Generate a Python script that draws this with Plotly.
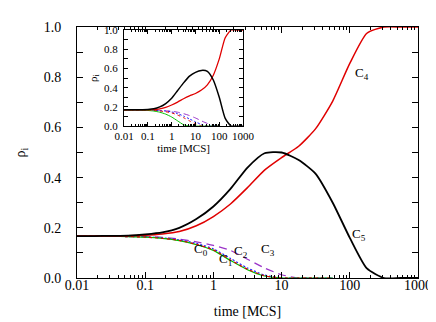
import math
import plotly.graph_objects as go

# times at quarter-decade spacing
t_q = [0.01, 0.0178, 0.0316, 0.0562, 0.1, 0.178, 0.316, 0.562, 1, 1.78, 3.16, 5.62,
       10, 17.8, 31.6, 56.2, 100, 178, 316, 562, 1000]

# ---------------- main panel data ----------------
c5_main = [0.167, 0.167, 0.168, 0.169, 0.174, 0.182, 0.2, 0.235, 0.285, 0.355, 0.44,
           0.497, 0.5, 0.47, 0.415, 0.3, 0.16, 0.038, 0.0, 0.0, 0.0]
c4_main = [0.167, 0.167, 0.167, 0.168, 0.17, 0.175, 0.185, 0.208, 0.245, 0.295, 0.36,
           0.43, 0.48, 0.525, 0.595, 0.705, 0.855, 0.975, 1.0, 1.0, 1.0]

t_small = t_q[:16]
c0_main = [0.167, 0.167, 0.166, 0.165, 0.163, 0.158, 0.149, 0.133, 0.11, 0.07, 0.033,
           0.008, 0.0, 0.0, 0.0, 0.0]
c1_main = [0.167, 0.167, 0.166, 0.165, 0.163, 0.158, 0.15, 0.134, 0.112, 0.072, 0.035,
           0.009, 0.0, 0.0, 0.0, 0.0]
c2_main = [0.167, 0.167, 0.166, 0.165, 0.164, 0.16, 0.152, 0.138, 0.116, 0.078, 0.04,
           0.012, 0.0, 0.0, 0.0, 0.0]
c3_main = [0.168, 0.168, 0.167, 0.166, 0.165, 0.162, 0.155, 0.144, 0.13, 0.11, 0.075,
           0.04, 0.013, 0.0, 0.0, 0.0]

# ---------------- inset data ----------------
c5_in = [0.17, 0.17, 0.17, 0.171, 0.173, 0.18, 0.2, 0.235, 0.29, 0.37, 0.45, 0.52,
         0.56, 0.58, 0.57, 0.48, 0.3, 0.08, 0.0, 0.0, 0.0]
c4_in = [0.17, 0.17, 0.17, 0.17, 0.17, 0.172, 0.18, 0.195, 0.22, 0.25, 0.285, 0.315,
         0.34, 0.375, 0.43, 0.53, 0.7, 0.92, 1.0, 1.0, 1.0]
c0_in = [0.167, 0.167, 0.167, 0.166, 0.163, 0.157, 0.145, 0.125, 0.095, 0.055, 0.015,
         0.0, 0.0, 0.0, 0.0, 0.0, 0.0]
c1_in = [0.167, 0.167, 0.167, 0.167, 0.166, 0.163, 0.158, 0.15, 0.138, 0.115, 0.088,
         0.055, 0.025, 0.005, 0.0, 0.0, 0.0]
c2_in = [0.167, 0.167, 0.167, 0.167, 0.167, 0.165, 0.162, 0.157, 0.148, 0.13, 0.105,
         0.075, 0.045, 0.018, 0.003, 0.0, 0.0]
c3_in = [0.168, 0.168, 0.168, 0.168, 0.168, 0.167, 0.165, 0.16, 0.155, 0.145, 0.13,
         0.11, 0.085, 0.055, 0.028, 0.008, 0.0]
t_in_small = t_q[:17]

x_ticks = [0.01, 0.1, 1, 10, 100, 1000]
x_ticklabels = ["0.01", "0.1", "1", "10", "100", "1000"]
y_ticks = [0.0, 0.2, 0.4, 0.6, 0.8, 1.0]
y_ticklabels = ["0.0", "0.2", "0.4", "0.6", "0.8", "1.0"]

labels = ["C<sub>0</sub>", "C<sub>1</sub>", "C<sub>2</sub>", "C<sub>3</sub>",
          "C<sub>4</sub>", "C<sub>5</sub>"]
label_t = [0.66, 1.5, 2.5, 6.3, 150, 135]
label_y = [0.114, 0.075, 0.106, 0.114, 0.815, 0.175]

BLACK = "#000000"
RED = "#e00000"
GREEN = "#00c000"
BLUE = "#2020ff"
PURPLE = "#9a32c8"
FONT = "Liberation Serif"

fig = go.Figure()


def add(x, y, color, dash, width, xa, ya):
    fig.add_trace(go.Scatter(x=x, y=y, mode="lines", xaxis=xa, yaxis=ya,
                             line=dict(color=color, dash=dash, width=width,
                                       shape="spline", smoothing=0.6),
                             showlegend=False, hoverinfo="skip"))


# main
add(t_small, c3_main, PURPLE, "8px,5px", 1.2, "x", "y")
add(t_small, c2_main, BLUE, "2px,2px", 1.2, "x", "y")
add(t_small, c0_main, GREEN, "solid", 1.2, "x", "y")
add(t_small, c1_main, RED, "3px,3px", 1.2, "x", "y")
add(t_q, c4_main, RED, "solid", 1.5, "x", "y")
add(t_q, c5_main, BLACK, "solid", 1.8, "x", "y")

# inset
add(t_in_small, c3_in, PURPLE, "6px,4px", 1.0, "x2", "y2")
add(t_in_small, c2_in, BLUE, "2px,2px", 1.0, "x2", "y2")
add(t_in_small, c1_in, RED, "3px,3px", 1.0, "x2", "y2")
add(t_in_small, c0_in, GREEN, "solid", 1.0, "x2", "y2")
add(t_q, c4_in, RED, "solid", 1.3, "x2", "y2")
add(t_q, c5_in, BLACK, "solid", 1.5, "x2", "y2")

axis_common = dict(showgrid=False, zeroline=False, showline=True, linecolor="black",
                   linewidth=1, mirror="allticks", ticks="inside",
                   tickcolor="black")
minor_log = [v * m for v in [0.01, 0.1, 1, 10, 100] for m in [2, 3, 4, 5, 6, 7, 8, 9]]

fig.update_layout(
    width=436, height=322,
    margin=dict(l=69, r=26, t=17, b=52),
    paper_bgcolor="white", plot_bgcolor="white",
    font=dict(family=FONT, color="black", size=13),
    xaxis=dict(type="log", range=[-2, 3], domain=[0, 1], anchor="y",
               tickvals=x_ticks, ticktext=x_ticklabels, ticklen=6,
               ticklabelstandoff=-6,
               minor=dict(ticks="inside", ticklen=3, tickcolor="black",
                          tickvals=minor_log),
               title=dict(text="time [MCS]", font=dict(size=14), standoff=14),
               tickfont=dict(size=14), **axis_common),
    yaxis=dict(range=[0, 1], domain=[0, 1], anchor="x",
               tickvals=y_ticks, ticktext=y_ticklabels, ticklen=6,
               ticklabelstandoff=12,
               minor=dict(ticks="inside", ticklen=6, tickcolor="black", dtick=0.1),
               title=dict(text="ρ<sub>i</sub>", font=dict(size=14), standoff=14),
               tickfont=dict(size=14), **axis_common),
    xaxis2=dict(type="log", range=[-2, 3], domain=[0.138, 0.487], anchor="y2",
                tickvals=x_ticks, ticktext=x_ticklabels, ticklen=4,
                ticklabelstandoff=0,
                minor=dict(ticks="inside", ticklen=2, tickcolor="black",
                           tickvals=minor_log),
                title=dict(text="time [MCS]", font=dict(size=11), standoff=2),
                tickfont=dict(size=11), **axis_common),
    yaxis2=dict(range=[0, 1], domain=[0.605, 0.988], anchor="x2",
                tickvals=y_ticks, ticktext=y_ticklabels, ticklen=4,
                ticklabelstandoff=3,
                minor=dict(ticks="inside", ticklen=4, tickcolor="black", dtick=0.1),
                title=dict(text="ρ<sub>i</sub>", font=dict(size=11), standoff=4),
                tickfont=dict(size=11), **axis_common),
)

for txt, lx, ly in zip(labels, label_t, label_y):
    fig.add_annotation(x=math.log10(lx), y=ly, xref="x", yref="y", text=txt,
                       showarrow=False, xanchor="center", yanchor="middle",
                       font=dict(family=FONT, size=13, color="black"))

fig.write_html("out.html")
